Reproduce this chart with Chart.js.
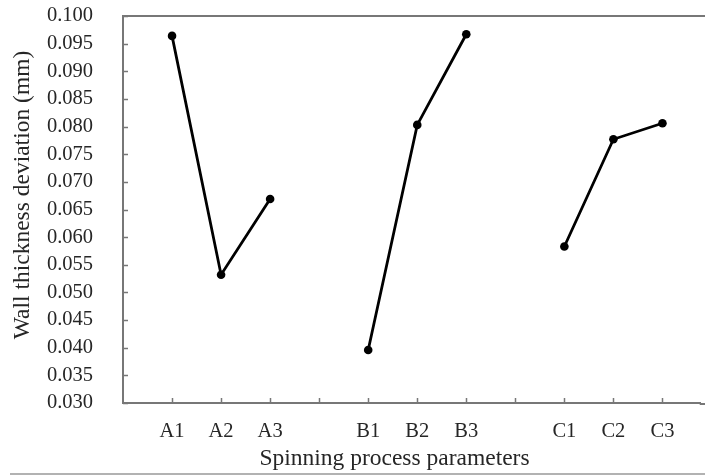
<!DOCTYPE html>
<html>
<head>
<meta charset="utf-8">
<script src="https://cdn.jsdelivr.net/npm/chart.js@4"></script>
<style>
html,body{margin:0;padding:0;background:#fff;}
#wrap{width:705px;height:475px;position:relative;}
</style>
</head>
<body>
<div id="wrap"><canvas id="c" width="705" height="475"></canvas></div>
<script>
// Category slots along the x axis (blank slots separate the factor groups)
const slots = ['', 'A1', 'A2', 'A3', '', 'B1', 'B2', 'B3', '', 'C1', 'C2', 'C3'];
const groupA = ['A1', 'A2', 'A3'];
const groupB = ['B1', 'B2', 'B3'];
const groupC = ['C1', 'C2', 'C3'];
const valuesA = [0.0964, 0.0532, 0.0669];
const valuesB = [0.0396, 0.0803, 0.0967];
const valuesC = [0.0583, 0.0777, 0.0806];
const yTicks = [0.030, 0.035, 0.040, 0.045, 0.050, 0.055, 0.060, 0.065, 0.070, 0.075, 0.080, 0.085, 0.090, 0.095, 0.100];
const xTitle = 'Spinning process parameters';
const yTitle = 'Wall thickness deviation (mm)';

const FONT = '"Liberation Serif", "Times New Roman", serif';
const TEXT = '#262626';
const AXIS = '#777777';

function pts(cats, vals) {
  return cats.map((c, i) => ({x: slots.indexOf(c), y: vals[i]}));
}
function ds(cats, vals) {
  return {
    data: pts(cats, vals),
    borderColor: '#000',
    backgroundColor: '#000',
    borderWidth: 2.8,
    pointRadius: 4.3,
    pointHoverRadius: 4.3,
    pointBorderWidth: 0,
    tension: 0
  };
}

const extras = {
  id: 'extras',
  afterDraw(chart) {
    const ctx = chart.ctx;
    const a = chart.chartArea;
    const xs = chart.scales.x, ys = chart.scales.y;
    ctx.save();
    ctx.strokeStyle = AXIS;
    ctx.lineWidth = 1.5;
    ctx.beginPath();
    xs.ticks.forEach(t => {
      const px = Math.round(xs.getPixelForValue(t.value)) + 0.5;
      ctx.moveTo(px, a.bottom);
      ctx.lineTo(px, a.bottom - 5);
    });
    ys.ticks.forEach(t => {
      const py = Math.round(ys.getPixelForValue(t.value)) + 0.5;
      ctx.moveTo(a.left, py);
      ctx.lineTo(a.left + 5, py);
    });
    ctx.stroke();
    ctx.lineWidth = 2;
    ctx.beginPath();
    ctx.moveTo(a.left, a.top);
    ctx.lineTo(chart.width, a.top);
    ctx.moveTo(a.right - 1, a.bottom + 1);
    ctx.lineTo(chart.width, a.bottom + 1);
    ctx.stroke();
    ctx.strokeStyle = '#999';
    ctx.lineWidth = 1.5;
    ctx.beginPath();
    ctx.moveTo(10, 474);
    ctx.lineTo(chart.width, 474);
    ctx.stroke();
    // axis titles
    ctx.fillStyle = TEXT;
    ctx.font = '23.5px ' + FONT;
    ctx.textAlign = 'center';
    ctx.textBaseline = 'middle';
    ctx.fillText(xTitle, 394.5, 459);
    ctx.translate(23, 195);
    ctx.rotate(-Math.PI / 2);
    ctx.fillText(yTitle, 0, 0);
    ctx.restore();
  }
};

new Chart(document.getElementById('c'), {
  type: 'line',
  data: {datasets: [ds(groupA, valuesA), ds(groupB, valuesB), ds(groupC, valuesC)]},
  options: {
    responsive: false,
    animation: false,
    events: [],
    layout: {padding: {left: 0, right: 0, top: 16, bottom: 0}},
    plugins: {legend: {display: false}, tooltip: {enabled: false}},
    scales: {
      x: {
        type: 'linear',
        min: 0,
        max: 11.78,
        afterBuildTicks(scale) {
          scale.ticks = slots.map((s, i) => ({value: i})).filter(t => t.value > 0);
        },
        afterFit(scale) { scale.height = 72; scale.paddingLeft = 0; scale.paddingRight = 0; },
        ticks: {
          autoSkip: false,
          maxRotation: 0,
          padding: 8,
          color: TEXT,
          font: {family: FONT, size: 20.5},
          callback: (v) => slots[v] || ''
        },
        grid: {display: false},
        border: {display: true, color: AXIS, width: 2}
      },
      y: {
        min: 0.030,
        max: 0.100,
        afterBuildTicks(scale) {
          scale.ticks = yTicks.map(v => ({value: v}));
        },
        afterFit(scale) { scale.width = 123; scale.paddingTop = 0; scale.paddingBottom = 0; },
        ticks: {
          autoSkip: false,
          padding: 22,
          color: TEXT,
          font: {family: FONT, size: 20.5},
          callback: (v) => Number(v).toFixed(3)
        },
        grid: {display: false},
        border: {display: true, color: AXIS, width: 2}
      }
    }
  },
  plugins: [extras]
});
</script>
</body>
</html>
